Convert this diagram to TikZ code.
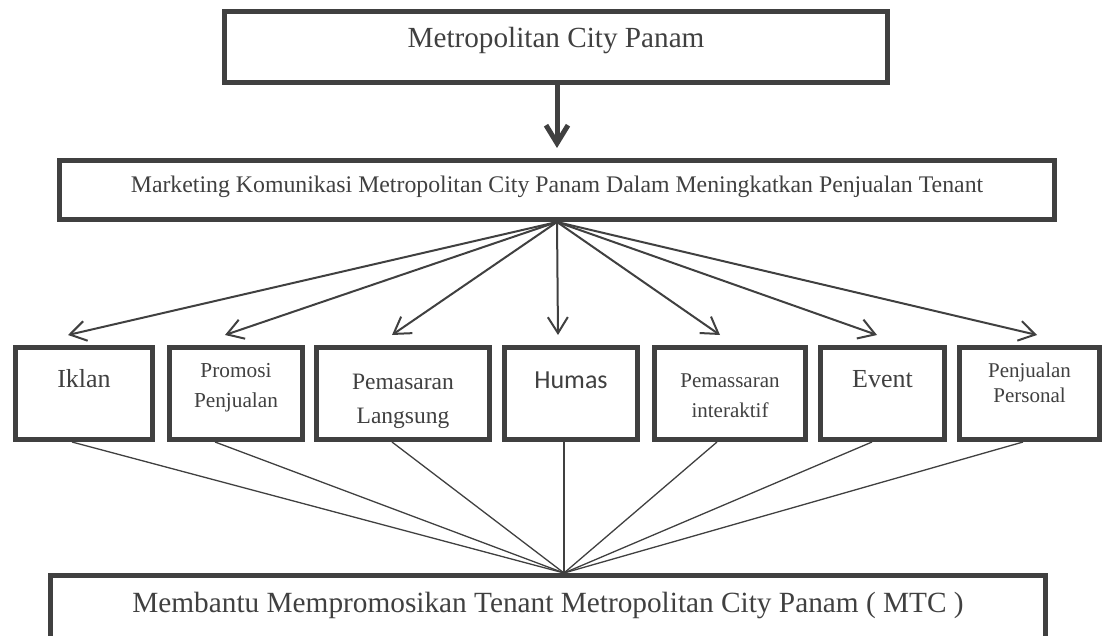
\documentclass[tikz,border=0pt]{standalone}
\usepackage{fontspec}
\setmainfont{Liberation Serif}
\newfontfamily\humasfont{Carlito}
\usetikzlibrary{arrows.meta}
\definecolor{abu}{RGB}{64,64,64}
\newcommand{\duabaris}[2]{\begin{tabular}[t]{@{}c@{}}#1\\#2\end{tabular}}

\begin{document}
\begin{tikzpicture}[x=0.5pt, y=-0.5pt,
    kotak/.style={draw=abu, line width=2.5pt, inner sep=0pt, text=abu, anchor=base},
    kecil/.style={kotak, minimum height=46pt},
    panah/.style={draw=abu, line width=1pt, -{Straight Barb[length=8pt,width=10pt]}},
    garis/.style={draw=abu, line width=0.65pt}]
    \useasboundingbox (0,0) rectangle (1103,636);

    % Kotak paling atas
    \node[kotak, minimum width=331.5pt, text height=18.25pt, text depth=17.25pt,
          font=\fontsize{14.6pt}{17.5pt}\selectfont] (metro) at (556,48) {Metropolitan City Panam};

    % Kotak marketing komunikasi
    \node[kotak, minimum width=497.5pt, text height=16.25pt, text depth=13.25pt,
          font=\fontsize{11.9pt}{14pt}\selectfont] (mkt) at (557,193)
          {Marketing Komunikasi Metropolitan City Panam Dalam Meningkatkan Penjualan Tenant};

    % Panah tebal dari atas
    \draw[draw=abu, line width=2.5pt, shorten >=5pt,
          -{Straight Barb[length=9pt,width=11pt]}] (mkt.north |- metro.south) -- (mkt.north);

    % Tujuh kotak bauran promosi
    \node[kecil, minimum width=68.5pt, text height=19.75pt, text depth=26.25pt,
          font=\fontsize{13pt}{15.5pt}\selectfont] (iklan) at (84,387) {Iklan};
    \node[kecil, minimum width=66.5pt, text height=15.25pt, text depth=30.75pt,
          font=\fontsize{10.65pt}{14.5pt}\selectfont] (promosi) at (236,378) {\duabaris{Promosi}{Penjualan}};
    \node[kecil, minimum width=86.5pt, text height=20.75pt, text depth=25.25pt,
          font=\fontsize{11.75pt}{17pt}\selectfont] (langsung) at (403,389) {\duabaris{Pemasaran}{Langsung}};
    \node[kecil, minimum width=66.5pt, text height=20.25pt, text depth=25.75pt,
          font=\humasfont\fontsize{13pt}{15.5pt}\selectfont] (humas) at (571,388) {Humas};
    \node[kecil, minimum width=75.5pt, text height=19.75pt, text depth=26.25pt,
          font=\fontsize{10.5pt}{15pt}\selectfont] (interaktif) at (730,387) {\duabaris{Pemassaran}{interaktif}};
    \node[kecil, minimum width=62pt, text height=19.75pt, text depth=26.25pt,
          font=\fontsize{13pt}{15.5pt}\selectfont] (event) at (882.5,387) {Event};
    \node[kecil, minimum width=70pt, text height=14.75pt, text depth=31.25pt,
          font=\fontsize{10.5pt}{13pt}\selectfont] (personal) at (1029.5,377) {\duabaris{Penjualan}{Personal}};

    % Kotak tujuan di bawah
    \node[kotak, minimum width=497.5pt, text height=18.25pt, text depth=30pt,
          font=\fontsize{14.65pt}{17.5pt}\selectfont] (tujuan) at (548,612)
          {Membantu Mempromosikan Tenant Metropolitan City Panam ( MTC )};
    \coordinate (temu) at ([xshift=8pt]tujuan.north);

    % Panah menyebar ke tiap kotak
    \foreach \kotak/\dx in {iklan/-16, promosi/-11, langsung/-11, humas/-13,
                            interaktif/-10, event/-5.5, personal/7.5}
        \draw[panah] (mkt.south) -- ([shift={(\dx,-10)}]\kotak.north);

    % Garis tipis menuju kotak tujuan
    \foreach \kotak/\dx in {iklan/-12, promosi/-21, langsung/-11, humas/-7,
                            interaktif/-13, event/-10.5, personal/-6.5}
        \draw[garis] ([shift={(\dx,0)}]\kotak.south) -- (temu);
\end{tikzpicture}
\end{document}
